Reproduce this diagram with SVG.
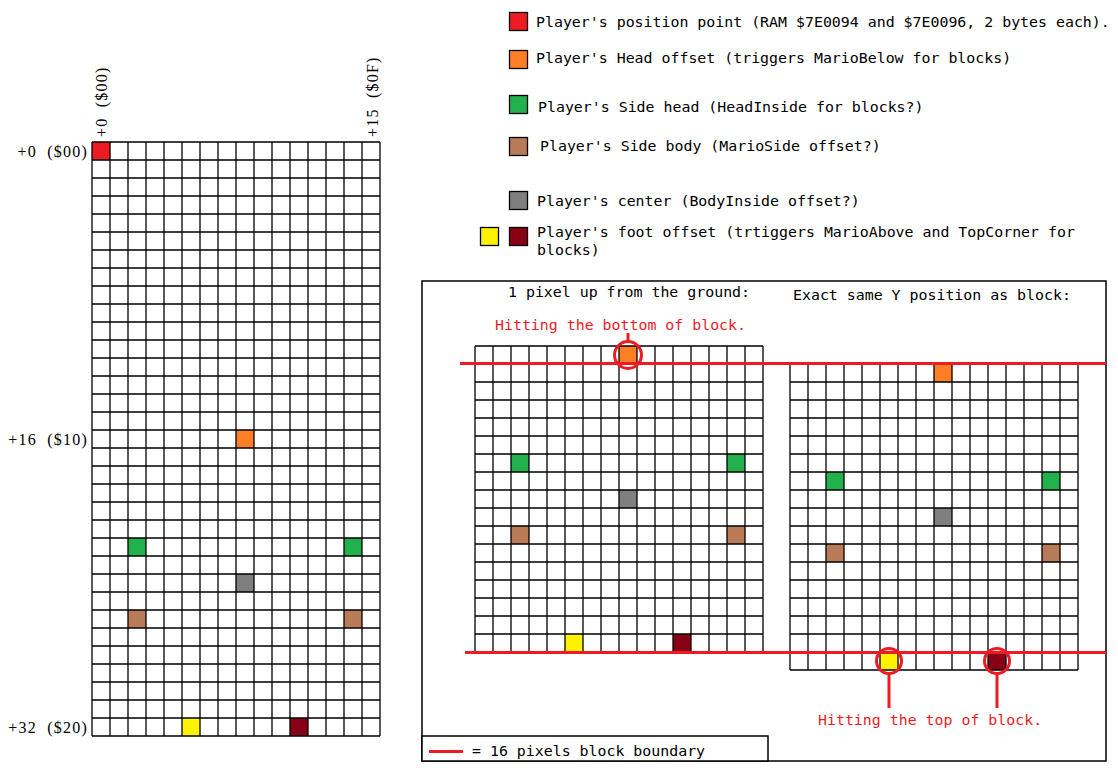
<svg xmlns="http://www.w3.org/2000/svg" width="1118" height="772" viewBox="0 0 1118 772">
<style>
.mono{font-family:"DejaVu Sans Mono","Liberation Mono",monospace;font-size:14.9px;fill:#000;white-space:pre}
.red{fill:#ED1C24}
.ser{font-family:"Liberation Serif","DejaVu Serif",serif;font-size:16px;letter-spacing:1.2px;fill:#000;white-space:pre}
.grid{fill:none;stroke:#000;stroke-width:1.3}
.box{fill:#fff;stroke:#000;stroke-width:1.5}
.bl{stroke:#ED1C24;stroke-width:3;fill:none}
.sw{stroke:#000;stroke-width:1.3}
.cR{fill:#ED1C24}.cO{fill:#FF7F27}.cG{fill:#22B14C}.cB{fill:#B97A57}.cY{fill:#FFF200}.cD{fill:#880015}.cK{fill:#7F7F7F}
</style>
<defs>
<path id="g17" d="M0 0V306M18 0V306M36 0V306M54 0V306M72 0V306M90 0V306M108 0V306M126 0V306M144 0V306M162 0V306M180 0V306M198 0V306M216 0V306M234 0V306M252 0V306M270 0V306M288 0V306M0 0H288M0 18H288M0 36H288M0 54H288M0 72H288M0 90H288M0 108H288M0 126H288M0 144H288M0 162H288M0 180H288M0 198H288M0 216H288M0 234H288M0 252H288M0 270H288M0 288H288M0 306H288"/>
<path id="g33" d="M0 0V594M18 0V594M36 0V594M54 0V594M72 0V594M90 0V594M108 0V594M126 0V594M144 0V594M162 0V594M180 0V594M198 0V594M216 0V594M234 0V594M252 0V594M270 0V594M288 0V594M0 0H288M0 18H288M0 36H288M0 54H288M0 72H288M0 90H288M0 108H288M0 126H288M0 144H288M0 162H288M0 180H288M0 198H288M0 216H288M0 234H288M0 252H288M0 270H288M0 288H288M0 306H288M0 324H288M0 342H288M0 360H288M0 378H288M0 396H288M0 414H288M0 432H288M0 450H288M0 468H288M0 486H288M0 504H288M0 522H288M0 540H288M0 558H288M0 576H288M0 594H288"/>
</defs>
<rect width="1118" height="772" fill="#fff"/>

<g id="legend">
<rect class="cR sw" x="509.5" y="12.5" width="18" height="18"/>
<text class="mono" x="536" y="27">Player's position point (RAM $7E0094 and $7E0096, 2 bytes each).</text>
<rect class="cO sw" x="509.5" y="50.5" width="18" height="18"/>
<text class="mono" x="536" y="63">Player's Head offset (triggers MarioBelow for blocks)</text>
<rect class="cG sw" x="509.5" y="95.5" width="18" height="18"/>
<text class="mono" x="538" y="112">Player's Side head (HeadInside for blocks?)</text>
<rect class="cB sw" x="509.5" y="137.5" width="18" height="18"/>
<text class="mono" x="540" y="151">Player's Side body (MarioSide offset?)</text>
<rect class="cK sw" x="509.5" y="191.5" width="18" height="18"/>
<text class="mono" x="537" y="206">Player's center (BodyInside offset?)</text>
<rect class="cY sw" x="480.5" y="227.5" width="18" height="18"/>
<rect class="cD sw" x="509.5" y="227.5" width="18" height="18"/>
<text class="mono" x="537" y="237">Player's foot offset (trtiggers MarioAbove and TopCorner for<tspan x="537" dy="17.5">blocks)</tspan></text>
</g>

<g id="left-grid">
<rect class="cR" x="92" y="142" width="18" height="18"/>
<rect class="cO" x="236" y="430" width="18" height="18"/>
<rect class="cG" x="128" y="538" width="18" height="18"/>
<rect class="cG" x="344" y="538" width="18" height="18"/>
<rect class="cK" x="236" y="574" width="18" height="18"/>
<rect class="cB" x="128" y="610" width="18" height="18"/>
<rect class="cB" x="344" y="610" width="18" height="18"/>
<rect class="cY" x="182" y="718" width="18" height="18"/>
<rect class="cD" x="290" y="718" width="18" height="18"/>
<use href="#g33" x="92" y="142" class="grid"/>
<text class="ser" x="88" y="157" text-anchor="end">+0  ($00)</text>
<text class="ser" x="88" y="445" text-anchor="end">+16  ($10)</text>
<text class="ser" x="88" y="733" text-anchor="end">+32  ($20)</text>
<text class="ser" transform="translate(107 137) rotate(-90)">+0  ($00)</text>
<text class="ser" transform="translate(378 137) rotate(-90)">+15  ($0F)</text>
</g>

<g id="panel">
<rect class="box" x="422" y="281" width="684" height="480"/>
<text class="mono" x="508" y="297">1 pixel up from the ground:</text>
<text class="mono" x="793" y="300">Exact same Y position as block:</text>
</g>

<g id="grid-a">
<rect class="cO" x="619" y="346" width="18" height="18"/>
<rect class="cG" x="511" y="454" width="18" height="18"/>
<rect class="cG" x="727" y="454" width="18" height="18"/>
<rect class="cK" x="619" y="490" width="18" height="18"/>
<rect class="cB" x="511" y="526" width="18" height="18"/>
<rect class="cB" x="727" y="526" width="18" height="18"/>
<rect class="cY" x="565" y="634" width="18" height="18"/>
<rect class="cD" x="673" y="634" width="18" height="18"/>
<use href="#g17" x="475" y="346" class="grid"/>
</g>

<g id="grid-b">
<rect class="cO" x="934" y="364" width="18" height="18"/>
<rect class="cG" x="826" y="472" width="18" height="18"/>
<rect class="cG" x="1042" y="472" width="18" height="18"/>
<rect class="cK" x="934" y="508" width="18" height="18"/>
<rect class="cB" x="826" y="544" width="18" height="18"/>
<rect class="cB" x="1042" y="544" width="18" height="18"/>
<rect class="cY" x="880" y="652" width="18" height="18"/>
<rect class="cD" x="988" y="652" width="18" height="18"/>
<use href="#g17" x="790" y="364" class="grid"/>
</g>

<g id="boundaries">
<path class="bl" d="M460 363.5H1106M465 652.5H1106"/>
</g>

<g id="callout-bottom">
<circle class="bl" cx="628" cy="355" r="13.5"/>
<text class="mono red" x="495" y="330">Hitting the bottom of block.</text>
</g>

<g id="callout-top">
<circle class="bl" cx="889" cy="661" r="12.5"/>
<circle class="bl" cx="997" cy="661" r="12.5"/>
<text class="mono red" x="818" y="725">Hitting the top of block.</text>
</g>

<g id="connectors">
<path class="bl" d="M628 341.5V333M889 673.5V708M997 673.5V708"/>
</g>

<g id="key">
<rect class="box" x="422" y="736" width="346" height="25"/>
<path class="bl" d="M429 751.5H463"/>
<text class="mono" x="472" y="756">= 16 pixels block boundary</text>
</g>
</svg>
